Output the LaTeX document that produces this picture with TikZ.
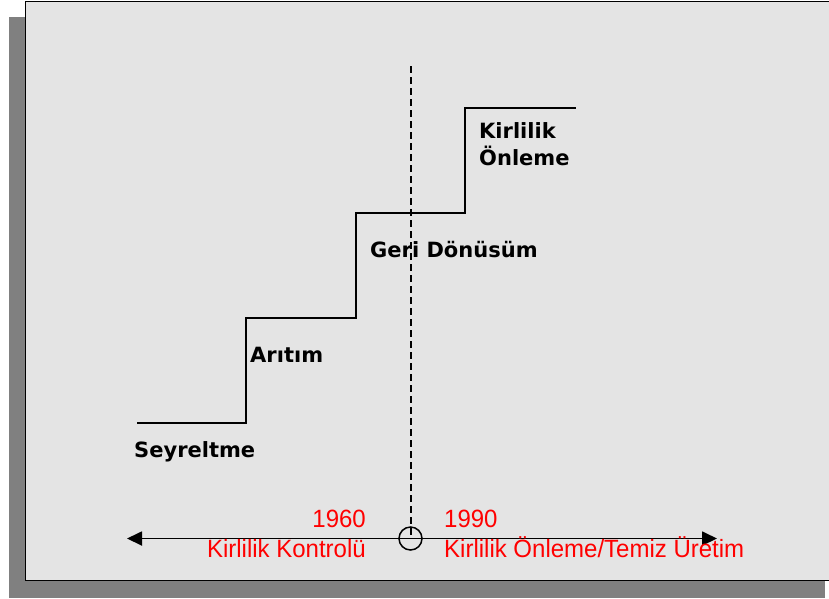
\documentclass[tikz,border=0pt]{standalone}
\usepackage{fontspec}
\setmainfont{DejaVu Sans}
\newfontfamily\redfont[FakeStretch=0.96]{Liberation Sans}
\usetikzlibrary{arrows.meta}
\definecolor{shadowgray}{HTML}{808080}
\definecolor{panelgray}{HTML}{E4E4E4}
\definecolor{redtext}{HTML}{FF0000}
\tikzset{
  stairlabel/.style={anchor=base west,inner sep=0pt,font=\fontsize{21}{27}\selectfont\bfseries},
  redlabel/.style={inner sep=0pt,text=redtext,font=\redfont\fontsize{25}{28}\selectfont},
  stair/.style={line width=1.8pt,line join=miter},
  timeline/.style={line width=1.8pt,{Triangle[length=15pt,width=14pt]}-{Triangle[length=15pt,width=14pt]}},
}
\begin{document}
\begin{tikzpicture}[x=1pt,y=-1pt]
\useasboundingbox (0,0) rectangle (829,598);
% shadow and panel
\fill[shadowgray] (9,17) rectangle (825,598);
\filldraw[fill=panelgray,draw=black,line width=1.5pt] (25.5,1.5) rectangle (835,580.5);
% staircase
\coordinate (s0) at (137,423);
\coordinate (s1) at (246,423);
\coordinate (s2) at (246,318);
\coordinate (s3) at (356,318);
\coordinate (s4) at (356,213);
\coordinate (s5) at (465,213);
\coordinate (s6) at (465,108);
\coordinate (s7) at (576,108);
\draw[stair] (s0) -- (s1) -- (s2) -- (s3) -- (s4) -- (s5) -- (s6) -- (s7);
% dashed divider and circle
\node[circle,draw=black,line width=1.5pt,minimum size=23pt,inner sep=0pt] (c) at (410.5,538.5) {};
\coordinate (dtop) at (410.5,66);
\draw[line width=2pt,dash pattern=on 7pt off 4pt] (dtop) -- (c.center);
% timeline
\coordinate (tl) at (127,538.5);
\coordinate (tr) at (717,538.5);
\draw[timeline] (tl) -- (tr);
% stair labels
\node[stairlabel] (l1) at (134,457) {Seyreltme};
\node[stairlabel] (l2) at (250,362) {Arıtım};
\node[stairlabel] (l3) at (370,257) {Geri Dönüsüm};
\node[stairlabel] (l4a) at (479,138) {Kirlilik};
\node[stairlabel] (l4b) at (479,165) {Önleme};
% red labels
\node[redlabel,anchor=base east] (y1) at (366,527) {1960};
\node[redlabel,anchor=base east] (k1) at (366,557) {Kirlilik Kontrolü};
\node[redlabel,anchor=base west] (y2) at (444,527) {1990};
\node[redlabel,anchor=base west] (k2) at (444,557) {Kirlilik Önleme/Temiz Üretim};
\end{tikzpicture}
\end{document}
